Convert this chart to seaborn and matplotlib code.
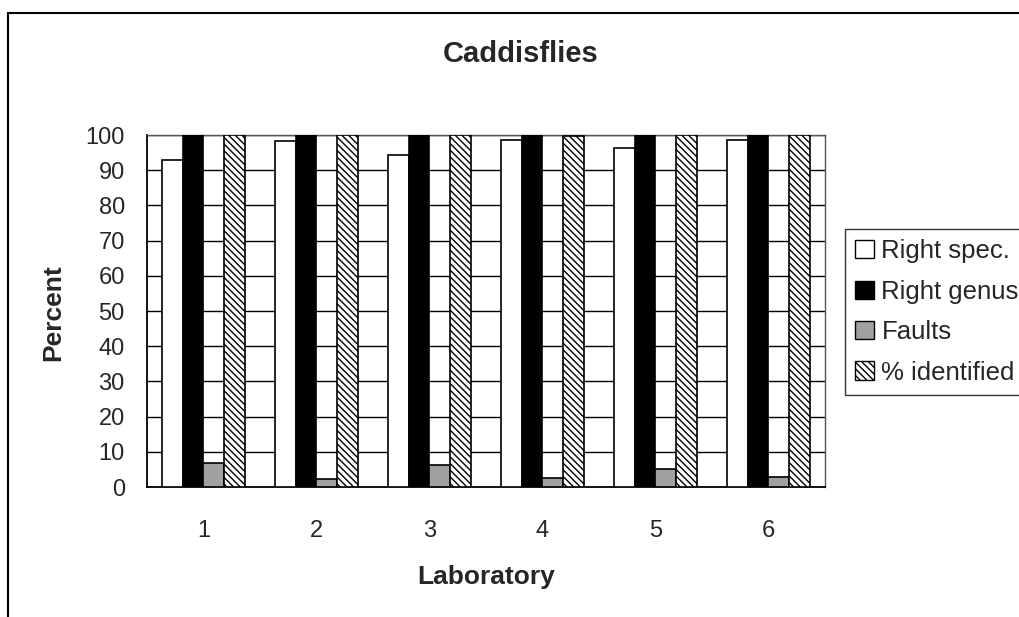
import matplotlib
matplotlib.use("Agg")
import matplotlib.pyplot as plt
from matplotlib.patches import Patch
from matplotlib.lines import Line2D
import seaborn as sns
import pandas as pd

labs = ["1", "2", "3", "4", "5", "6"]
series = ["Right spec.", "Right genus", "Faults", "% identified"]
right_spec = [93, 98.2, 94.2, 98.6, 96.4, 98.6]
right_genus = [100, 100, 100, 100, 100, 100]
faults = [6.8, 2.2, 6.3, 2.5, 5.2, 2.8]
identified = [100, 100, 100, 99.6, 100, 100]

sns.set_style("white")
plt.rcParams["font.family"] = ["Liberation Sans", "DejaVu Sans"]
plt.rcParams["hatch.linewidth"] = 1.0

rows = []
for name, vals in zip(series, [right_spec, right_genus, faults, identified]):
    for lab, v in zip(labs, vals):
        rows.append({"Laboratory": lab, "Percent": v, "Series": name})
df = pd.DataFrame(rows)

W, H = 1020, 617
fig = plt.figure(figsize=(W / 100, H / 100), dpi=100)
ax = fig.add_axes([147 / W, 1 - 487 / H, (825 - 147) / W, (487 - 135) / H])

colors = ["white", "black", "#a0a0a0", "white"]
hatches = [None, None, None, "\\\\\\\\\\"]
sns.barplot(data=df, x="Laboratory", y="Percent", hue="Series", order=labs,
            hue_order=series, palette=colors, width=0.73, edgecolor="black",
            linewidth=1.2, saturation=1, legend=False, ax=ax, zorder=3)
for cont, h in zip(ax.containers, hatches):
    for p in cont:
        if h:
            p.set_hatch(h)

ax.set_ylim(0, 100)
ax.set_xlim(-0.5, 5.5)
ax.set_yticks(range(0, 101, 10))
ax.yaxis.grid(True, color="black", linewidth=1.0, zorder=0)
ax.set_axisbelow(True)
ax.set_xticks(range(6))
ax.set_xticklabels(labs)
ax.set_xticks([i - 0.5 for i in range(7)], minor=True)
ax.tick_params(axis="x", which="major", length=0, pad=24, labelsize=17)
ax.tick_params(axis="x", which="minor", length=7, width=1.2, direction="out", color="black")
ax.tick_params(axis="y", length=6, width=1.2, direction="out", color="black", pad=10, labelsize=17)
for s in ["left", "bottom"]:
    ax.spines[s].set_color("black")
    ax.spines[s].set_linewidth(1.3)
for s in ["top", "right"]:
    ax.spines[s].set_color("#555555")
    ax.spines[s].set_linewidth(1.0)
ax.set_xlabel("")
ax.set_ylabel("")

fig.text(521 / W, 1 - 54 / H, "Caddisflies", ha="center", va="center",
         fontsize=21, fontweight="bold")
fig.text(486 / W, 1 - 577 / H, "Laboratory", ha="center", va="center",
         fontsize=19, fontweight="bold")
fig.text(53 / W, 1 - 313 / H, "Percent", ha="center", va="center",
         fontsize=19, fontweight="bold", rotation=90)

handles = [Patch(facecolor=c, edgecolor="black", hatch=h, linewidth=1.0)
           for c, h in zip(colors, hatches)]
leg = fig.legend(handles, series, loc="upper left",
                 bbox_to_anchor=(845 / W, 1 - 229 / H), frameon=True,
                 fancybox=False, fontsize=18.5, handlelength=0.72,
                 handleheight=0.72, handletextpad=0.3, labelspacing=0.64,
                 borderpad=0.4, borderaxespad=0)
leg.get_frame().set_edgecolor("black")
leg.get_frame().set_linewidth(1.0)

fig.add_artist(Line2D([8 / W, 8 / W], [0, 1 - 13 / H], color="black", linewidth=1.5))
fig.add_artist(Line2D([8 / W, 1], [1 - 13 / H, 1 - 13 / H], color="black", linewidth=1.5))

fig.savefig("out.png", dpi=100)
